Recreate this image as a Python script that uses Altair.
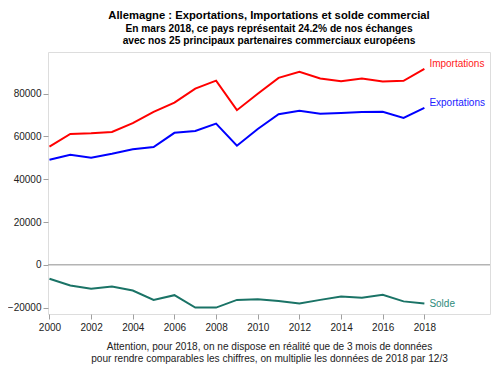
import altair as alt
import pandas as pd

years = list(range(2000, 2019))
importations = [55300, 61200, 61500, 62100, 66200, 71500, 75800, 82400, 86100, 72300,
                80000, 87400, 90200, 87100, 85800, 87100, 85700, 86000, 91600]
exportations = [49100, 51400, 50100, 51900, 54000, 55100, 61700, 62600, 66000, 55700,
                 63500, 70400, 72000, 70600, 71000, 71500, 71600, 68700, 73400]
solde = [-6500, -9700, -11200, -10100, -12000, -16400, -14200, -20000, -20000, -16400,
         -16100, -16900, -18100, -16400, -14800, -15400, -14000, -17100, -18100]

series_names = ["Importations", "Exportations", "Solde"]
series_colors = ["#ff0000", "#0000ff", "#1a7366"]
label_colors = ["#ff2020", "#2020ff", "#2e8b7b"]

rows = []
for name, vals in zip(series_names, [importations, exportations, solde]):
    for y, v in zip(years, vals):
        rows.append({"year": y, "value": v, "series": name})
df = pd.DataFrame(rows)

FONT = "Liberation Sans"

x = alt.X("year:Q",
          scale=alt.Scale(domain=[1999.93, 2021.15], nice=False, zero=False),
          axis=alt.Axis(values=list(range(2000, 2019, 2)), format="d", grid=False, domain=False,
                        tickColor="#a0a0a0", tickSize=5, labelPadding=3, labelFontSize=10,
                        labelColor="#222222", labelFont=FONT,
                        title=["Attention, pour 2018, on ne dispose en réalité que de 3 mois de données",
                               "pour rendre comparables les chiffres, on multiplie les données de 2018 par 12/3"],
                        titleFont=FONT, titleFontSize=10.1, titleFontWeight="normal", titleColor="#222222",
                        titlePadding=9, titleLineHeight=12))
y = alt.Y("value:Q",
          scale=alt.Scale(domain=[-23000, 99500], nice=False, zero=False),
          axis=alt.Axis(values=[-20000, 0, 20000, 40000, 60000, 80000], format="d", grid=False,
                        domain=False, tickColor="#a0a0a0", tickSize=5, labelPadding=2,
                        labelFontSize=10, labelColor="#222222", labelFont=FONT, title=None))

color = alt.Color("series:N", scale=alt.Scale(domain=series_names, range=series_colors), legend=None)

base = alt.Chart(df)

zero = alt.Chart(pd.DataFrame({"v": [0]})).mark_rule(color="#b4b4b4", strokeWidth=1.5).encode(y=alt.Y("v:Q"))

lines = base.mark_line(strokeWidth=2).encode(x=x, y=y, color=color, detail="series:N")

def label(name, col, dy):
    return base.transform_filter(
        (alt.datum.series == name) & (alt.datum.year == 2018)
    ).mark_text(align="left", baseline="middle", dx=5, dy=dy, fontSize=10, font=FONT, color=col).encode(
        x="year:Q", y="value:Q", text="series:N")

labels = [label(n, c, d) for n, c, d in zip(series_names, label_colors, [-5, -5, 0])]

chart = alt.layer(zero, lines, *labels).properties(
    width=442, height=262,
    title=alt.Title(
        text="Allemagne : Exportations, Importations et solde commercial",
        subtitle=["En mars 2018, ce pays représentait 24.2% de nos échanges",
                  "avec nos 25 principaux partenaires commerciaux européens"],
        anchor="middle", font=FONT, fontSize=11.25, fontWeight="bold", color="#000000",
        subtitleFont=FONT, subtitleFontSize=10.2, subtitleFontWeight="bold", subtitleColor="#000000",
        subtitlePadding=3, subtitleLineHeight=12, offset=6),
    autosize=alt.AutoSizeParams(type="none"),
    padding={"left": 40, "top": 44, "right": 1, "bottom": 50},
).configure_view(stroke="#c4c4c4", strokeWidth=1.5).configure(background="white")

chart.save("out.html", embed_options={"renderer": "svg", "actions": False})
